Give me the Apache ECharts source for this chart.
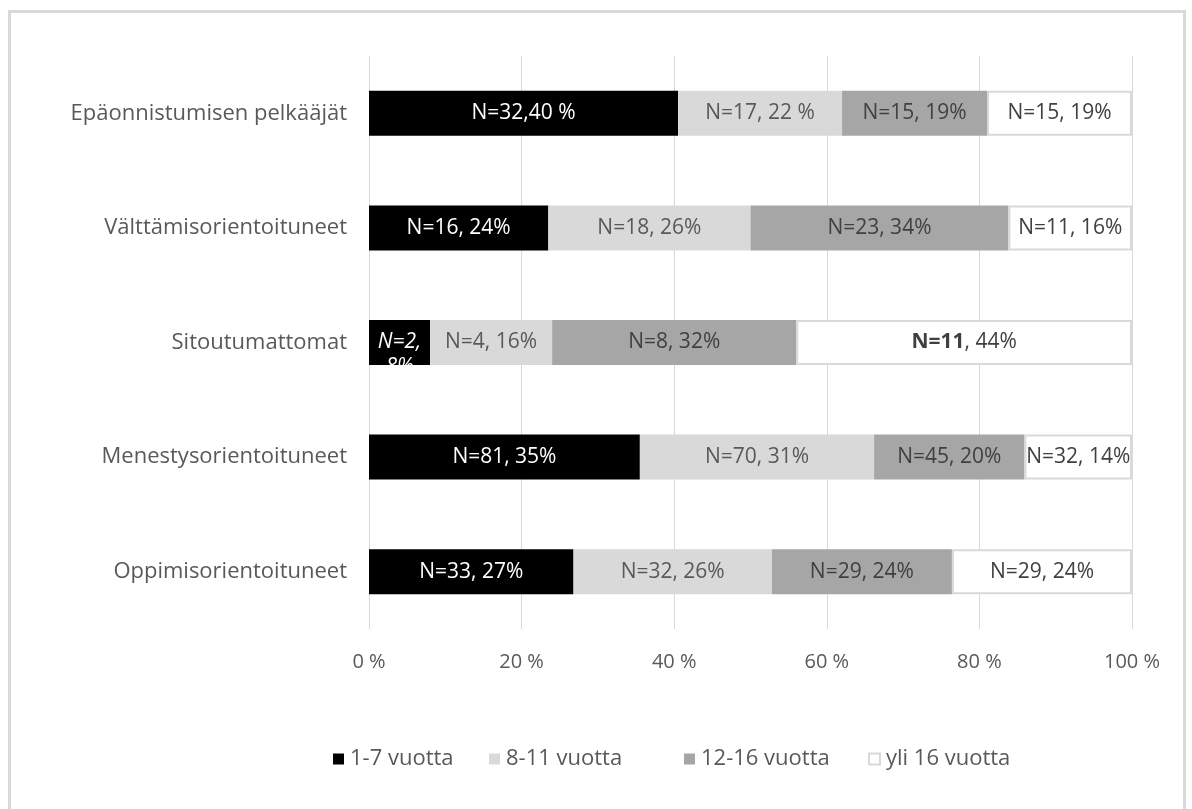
<!DOCTYPE html>
<html>
<head>
<meta charset="utf-8">
<script src="https://cdn.jsdelivr.net/npm/echarts@6/dist/echarts.min.js"></script>
<style>
  html, body { margin: 0; padding: 0; background: #fff; overflow: hidden; }
  #frame { position: absolute; left: 8px; top: 10px; width: 1172px; height: 830px; border: 3px solid #d9d9d9; }
  #main { position: absolute; left: 0; top: 0; width: 1192px; height: 809px; }
</style>
</head>
<body>
<div id="frame"></div>
<div id="main"></div>
<script>
// ryhmät ylhäältä alas
const categories = ['Epäonnistumisen pelkääjät', 'Välttämisorientoituneet', 'Sitoutumattomat', 'Menestysorientoituneet', 'Oppimisorientoituneet'];
const seriesNames = ['1-7 vuotta', '8-11 vuotta', '12-16 vuotta', 'yli 16 vuotta'];

// osuudet prosentteina (luettu kuvasta)
const pct1to7 = [40.5, 23.5, 8.0, 35.5, 26.8];
const pct8to11 = [21.5, 26.5, 16.0, 30.7, 26.0];
const pct12to16 = [19.0, 33.8, 32.0, 19.7, 23.6];
const pctOver16 = [19.0, 16.2, 44.0, 14.1, 23.6];

// segmenttien tekstit
const labels1to7 = ['N=32,40 %', 'N=16, 24%', 'N=2,\n8%', 'N=81, 35%', 'N=33, 27%'];
const labels8to11 = ['N=17, 22 %', 'N=18, 26%', 'N=4, 16%', 'N=70, 31%', 'N=32, 26%'];
const labels12to16 = ['N=15, 19%', 'N=23, 34%', 'N=8, 32%', 'N=45, 20%', 'N=29, 24%'];
const labelsOver16 = ['N=15, 19%', 'N=11, 16%', '{b|N=11}, 44%', 'N=32, 14%', 'N=29, 24%'];

const tickLabels = ['0 %', '20 %', '40 %', '60 %', '80 %', '100 %'];

const font = "'Open Sans', 'Noto Sans', sans-serif";
const legendLefts = [328, 484, 679, 863];

const chart = echarts.init(document.getElementById('main'), null, { renderer: 'canvas' });

function makeLabel(labels, textColor) {
  return {
    show: true,
    position: 'inside',
    color: textColor,
    fontSize: 21,
    fontFamily: font,
    formatter: function (p) { return labels[p.dataIndex]; },
    rich: { b: { fontWeight: 'bold', color: textColor, fontSize: 21, fontFamily: font } }
  };
}

function makeSeries(name, data, labels, color, textColor, border) {
  const s = {
    name: name,
    type: 'bar',
    stack: 'total',
    barWidth: 45,
    data: data,
    itemStyle: { color: color },
    label: makeLabel(labels, textColor)
  };
  if (border) {
    s.itemStyle.borderColor = border;
    s.itemStyle.borderWidth = 2;
  }
  return s;
}

const legends = seriesNames.map(function (n, i) {
  return {
    left: legendLefts[i],
    bottom: 34,
    itemWidth: 11,
    itemHeight: 11,
    icon: 'rect',
    textStyle: { color: '#595959', fontSize: 22, fontFamily: font, padding: [0, 0, 0, 1] },
    data: [n]
  };
});

// mustan sarjan kapea palkki: kursivoitu, kaksirivinen teksti
const data1to7 = pct1to7.map(function (v, i) {
  if (i !== 2) return v;
  return { value: v, label: { fontStyle: 'italic', lineHeight: 25, offset: [0, 12] } };
});

const option = {
  animation: false,
  textStyle: { fontFamily: font },
  grid: { left: 369, right: 60, top: 56, bottom: 180 },
  legend: legends,
  xAxis: {
    type: 'value',
    min: 0,
    max: 100,
    interval: 20,
    axisLine: { show: false },
    axisTick: { show: false },
    splitLine: { lineStyle: { color: '#d9d9d9', width: 1 } },
    axisLabel: {
      color: '#595959',
      fontSize: 20,
      fontFamily: font,
      margin: 23,
      formatter: function (v) { return tickLabels[v / 20]; }
    }
  },
  yAxis: {
    type: 'category',
    inverse: true,
    data: categories,
    axisLine: { show: false },
    axisTick: { show: false },
    axisLabel: { color: '#595959', fontSize: 22, fontFamily: font, margin: 22 }
  },
  series: [
    makeSeries(seriesNames[0], data1to7, labels1to7, '#000000', '#ffffff'),
    makeSeries(seriesNames[1], pct8to11, labels8to11, '#d9d9d9', '#595959'),
    makeSeries(seriesNames[2], pct12to16, labels12to16, '#a6a6a6', '#404040'),
    makeSeries(seriesNames[3], pctOver16, labelsOver16, '#ffffff', '#404040', '#d9d9d9')
  ]
};

chart.setOption(option);
</script>
</body>
</html>
